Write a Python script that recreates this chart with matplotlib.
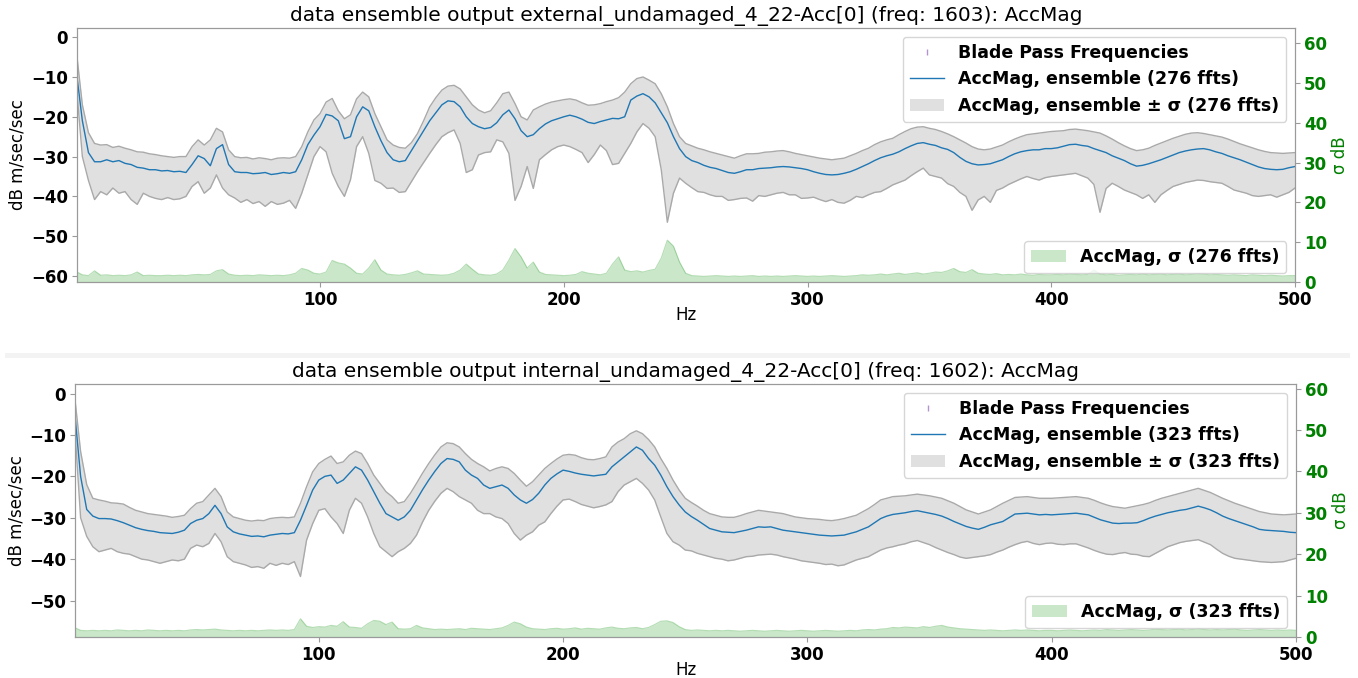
import numpy as np
import matplotlib
matplotlib.use("Agg")
import matplotlib.pyplot as plt
from matplotlib.patches import Rectangle

# Frequency grid (Hz), 2.5 Hz spacing, first bin just above DC
freq_hz = np.arange(201) * 2.5
freq_hz[0] = 0.3

blade_pass_hz = []

# ---- external sensor (276 ffts) ----
ext_mean = [
    -10.0, -21.0, -29.0, -31.3, -31.3, -30.8, -31.3, -31.0, -31.7, -32.0, -32.7, -32.9, -33.3, -33.3, -33.6, -33.5, -33.8, -33.7, -34.0, -32.0,
    -29.8, -30.5, -32.3, -28.0, -27.0, -32.0, -33.8, -34.0, -34.0, -34.3, -34.2, -34.0, -34.5, -34.3, -34.0, -34.2, -33.8, -30.8, -27.0, -24.6,
    -22.5, -19.4, -19.8, -21.0, -25.5, -25.0, -20.0, -17.5, -18.5, -22.5, -26.0, -29.0, -30.8, -31.3, -31.0, -28.5, -26.0, -23.5, -21.0, -19.0,
    -17.0, -16.0, -16.2, -17.5, -20.0, -21.7, -22.5, -23.0, -22.7, -21.5, -19.5, -18.3, -20.5, -23.5, -25.0, -24.5, -23.0, -21.8, -21.0, -20.5,
    -20.0, -19.6, -20.0, -20.6, -21.4, -21.7, -21.2, -20.8, -20.4, -20.5, -20.0, -15.8, -14.8, -14.2, -15.0, -16.5, -19.0, -21.5, -25.0, -28.0,
    -30.0, -31.0, -31.5, -32.2, -32.7, -33.0, -33.5, -34.0, -34.2, -33.8, -33.3, -33.3, -33.0, -32.9, -32.8, -32.6, -32.5, -32.6, -32.8, -33.0,
    -33.3, -33.8, -34.2, -34.5, -34.6, -34.5, -34.2, -33.8, -33.2, -32.5, -31.8, -31.0, -30.3, -29.8, -29.4, -28.8, -28.0, -27.3, -26.7, -26.5,
    -26.9, -27.2, -27.8, -28.2, -29.0, -30.2, -31.2, -31.8, -32.1, -32.0, -31.8, -31.3, -30.8, -30.0, -29.3, -28.8, -28.5, -28.3, -28.3, -28.0,
    -28.0, -27.8, -27.4, -27.0, -26.9, -27.2, -27.4, -28.0, -28.5, -29.0, -29.8, -30.4, -31.0, -31.8, -32.4, -32.2, -31.8, -31.3, -30.8, -30.2,
    -29.6, -29.0, -28.6, -28.3, -28.1, -28.0, -28.3, -28.8, -29.2, -29.8, -30.3, -30.8, -31.4, -32.0, -32.6, -33.0, -33.2, -33.3, -33.2, -32.8,
    -32.5,
]
ext_upper = [
    -5.0, -17.0, -24.0, -26.7, -27.1, -27.0, -27.7, -27.4, -27.9, -28.3, -28.8, -28.9, -29.3, -29.5, -29.8, -30.0, -30.2, -30.0, -30.0, -27.5,
    -25.8, -27.1, -25.8, -22.9, -23.8, -28.3, -30.0, -30.3, -30.2, -30.6, -30.3, -30.5, -30.8, -30.4, -30.3, -30.4, -30.0, -27.5, -23.8, -20.8,
    -19.2, -16.3, -15.4, -18.5, -20.5, -19.5, -15.5, -13.8, -15.0, -19.2, -22.5, -25.8, -27.1, -27.7, -27.9, -26.5, -24.2, -21.0, -17.5, -15.2,
    -13.3, -12.3, -12.1, -13.0, -15.0, -17.0, -18.3, -19.0, -18.5, -16.5, -14.2, -13.8, -16.7, -20.0, -20.8, -18.3, -17.5, -16.8, -16.3, -16.0,
    -15.7, -15.5, -15.8, -16.5, -17.1, -17.0, -16.7, -16.2, -15.8, -15.2, -13.8, -11.7, -10.4, -10.0, -10.8, -11.7, -14.2, -17.5, -21.7, -25.0,
    -26.7, -27.3, -27.9, -28.3, -28.8, -29.2, -29.6, -30.0, -30.4, -29.8, -29.3, -29.3, -29.2, -28.9, -28.8, -28.6, -28.5, -28.8, -29.2, -29.5,
    -29.8, -30.1, -30.4, -30.6, -30.8, -30.6, -30.4, -29.8, -29.2, -28.5, -27.9, -27.0, -26.3, -25.8, -25.4, -24.5, -23.7, -23.0, -22.6, -22.5,
    -22.9, -23.2, -23.7, -24.3, -25.0, -25.8, -26.6, -27.5, -28.1, -28.3, -28.1, -27.6, -27.1, -26.3, -25.6, -25.0, -24.5, -24.3, -24.1, -23.9,
    -23.7, -23.6, -23.5, -23.2, -23.1, -23.3, -23.5, -23.8, -24.1, -24.8, -25.6, -26.5, -27.3, -28.0, -28.5, -28.3, -27.9, -27.2, -26.6, -26.0,
    -25.4, -24.9, -24.4, -24.1, -24.0, -24.2, -24.5, -24.8, -25.1, -25.6, -26.2, -26.8, -27.3, -27.8, -28.3, -28.7, -29.0, -29.1, -29.2, -29.1,
    -29.0,
]
ext_lower = [
    -14.0, -30.0, -36.0, -40.8, -38.8, -39.6, -37.9, -39.2, -38.8, -40.8, -42.0, -39.2, -40.0, -40.5, -40.8, -40.3, -40.8, -40.6, -40.0, -37.5,
    -36.3, -39.2, -37.9, -34.6, -37.9, -39.6, -40.4, -41.5, -40.8, -41.8, -41.3, -42.5, -41.3, -42.0, -41.7, -41.0, -43.0, -39.2, -34.6, -30.0,
    -27.5, -28.8, -34.2, -37.5, -40.0, -35.8, -27.5, -25.0, -29.2, -36.0, -36.7, -38.0, -37.9, -39.0, -38.8, -36.3, -33.8, -31.5, -29.2, -27.0,
    -25.0, -24.0, -23.3, -26.7, -34.0, -33.3, -29.6, -29.0, -28.8, -25.8, -26.3, -29.2, -41.0, -37.5, -32.5, -38.0, -30.8, -29.5, -28.3, -27.5,
    -27.1, -27.5, -28.2, -29.0, -31.5, -29.5, -27.1, -28.5, -32.0, -31.7, -29.2, -26.7, -23.8, -21.7, -22.9, -25.0, -33.3, -46.5, -39.2, -35.4,
    -36.7, -37.8, -38.8, -39.0, -39.6, -40.0, -40.0, -41.0, -40.8, -40.5, -40.4, -41.2, -39.8, -40.0, -39.6, -39.2, -39.0, -39.6, -39.6, -40.5,
    -40.4, -40.2, -40.8, -41.3, -40.8, -41.5, -41.7, -41.0, -40.0, -40.3, -39.6, -39.0, -38.8, -38.0, -37.1, -36.5, -35.9, -34.8, -33.8, -32.9,
    -34.6, -35.0, -35.4, -36.8, -37.5, -39.0, -40.0, -43.5, -40.9, -40.0, -41.5, -38.5, -37.9, -37.0, -36.3, -35.6, -35.0, -35.5, -35.9, -35.3,
    -35.0, -34.8, -34.6, -34.4, -34.2, -34.8, -35.4, -37.0, -44.0, -38.0, -36.7, -37.5, -38.4, -39.0, -39.6, -40.5, -39.6, -41.5, -39.6, -38.5,
    -37.5, -37.0, -36.5, -36.2, -35.9, -36.0, -36.3, -36.5, -36.7, -37.5, -38.4, -38.8, -39.2, -39.8, -40.0, -39.8, -39.6, -40.2, -39.6, -39.0,
    -37.9,
]
ext_sigma = [
    2.5, 1.8, 1.6, 2.8, 1.7, 1.8, 1.6, 1.7, 1.6, 1.8, 2.5, 1.6, 1.7, 1.6, 1.6, 1.7, 1.6, 1.7, 1.6, 1.8,
    1.9, 1.8, 1.9, 2.8, 3.1, 2.0, 1.7, 1.6, 1.7, 1.6, 1.8, 1.7, 1.6, 1.7, 1.6, 1.8, 2.2, 3.4, 3.0, 2.2,
    2.0, 2.5, 5.4, 4.8, 4.5, 3.5, 2.2, 2.0, 3.5, 5.6, 3.0, 2.0, 1.8, 1.7, 1.9, 2.3, 2.8, 2.0, 1.9, 1.8,
    1.7, 1.8, 2.2, 3.0, 4.5, 3.2, 2.0, 1.8, 1.7, 2.0, 3.0, 5.5, 8.4, 6.3, 3.5, 5.0, 2.5, 1.9, 1.8, 1.7,
    1.6, 1.7, 1.9, 2.6, 2.2, 2.0, 1.8, 2.2, 4.5, 6.3, 3.0, 2.6, 2.8, 2.5, 2.9, 3.2, 6.0, 10.5, 9.0, 5.0,
    2.2, 1.6, 1.5, 1.4, 1.5, 1.6, 1.5, 1.4, 1.5, 1.4, 1.5, 1.6, 1.4, 1.5, 1.4, 1.5, 1.4, 1.5, 1.6, 1.5,
    1.4, 1.5, 1.4, 1.5, 1.6, 1.5, 1.4, 1.5, 1.6, 1.8, 1.7, 1.8, 2.0, 1.8, 2.0, 2.2, 1.9, 2.1, 2.3, 2.0,
    2.2, 2.5, 2.4, 2.8, 3.4, 2.6, 2.4, 3.1, 2.2, 2.0, 1.9, 2.1, 1.8, 1.9, 1.8, 2.0, 1.8, 1.7, 1.9, 1.8,
    1.8, 1.9, 1.8, 2.0, 1.9, 1.8, 1.9, 3.0, 2.0, 1.8, 1.9, 1.7, 1.8, 1.9, 1.8, 2.0, 1.8, 1.9, 2.0, 1.8,
    1.9, 2.0, 1.8, 1.9, 2.1, 2.0, 1.8, 1.9, 1.8, 1.7, 1.8, 1.7, 1.6, 1.8, 1.7, 1.6, 1.7, 1.6, 1.5, 1.6,
    1.6,
]

# ---- internal sensor (323 ffts) ----
int_mean = [
    -6.0, -20.0, -28.0, -29.6, -30.2, -30.2, -30.3, -30.7, -31.2, -31.8, -32.4, -32.8, -33.1, -33.3, -33.6, -33.7, -33.8, -33.5, -33.0, -31.4,
    -30.6, -30.2, -29.0, -27.0, -29.0, -32.2, -33.4, -33.9, -34.2, -34.5, -34.4, -34.6, -34.2, -34.0, -33.8, -33.9, -33.6, -30.6, -27.0, -23.3,
    -20.9, -20.0, -19.7, -21.7, -20.9, -19.3, -17.7, -18.5, -20.9, -23.7, -26.5, -29.0, -29.8, -30.6, -29.8, -28.2, -25.7, -23.2, -20.9, -18.8,
    -16.9, -15.7, -15.9, -16.5, -18.5, -19.7, -20.5, -22.1, -22.9, -22.5, -22.1, -22.9, -24.5, -25.7, -26.5, -25.6, -24.1, -22.1, -20.5, -19.4,
    -18.5, -18.8, -19.2, -19.5, -19.7, -19.9, -19.7, -19.5, -17.7, -16.5, -15.3, -14.1, -12.9, -13.7, -15.7, -17.3, -19.7, -22.5, -24.9, -26.9,
    -28.6, -29.7, -30.6, -31.6, -32.6, -33.0, -33.4, -33.5, -33.6, -33.3, -33.0, -32.6, -32.2, -32.3, -32.2, -32.6, -33.0, -33.2, -33.4, -33.6,
    -33.8, -34.0, -34.2, -34.3, -34.4, -34.3, -34.2, -33.8, -33.4, -32.8, -32.2, -31.2, -30.2, -29.6, -29.2, -29.0, -28.8, -28.5, -28.3, -28.6,
    -28.9, -29.2, -29.6, -30.2, -30.9, -31.5, -32.1, -32.5, -32.8, -32.3, -31.7, -31.3, -30.9, -30.0, -29.1, -29.0, -28.9, -29.1, -29.3, -29.2,
    -29.3, -29.2, -29.1, -29.0, -28.9, -29.1, -29.3, -29.9, -30.5, -30.9, -31.3, -31.4, -31.3, -31.3, -31.2, -30.7, -30.1, -29.6, -29.2, -28.8,
    -28.5, -28.2, -28.0, -27.6, -27.2, -27.6, -28.1, -28.8, -29.6, -30.2, -30.7, -31.2, -31.7, -32.2, -32.8, -33.0, -33.1, -33.2, -33.3, -33.5,
    -33.6,
]
int_upper = [
    -2.0, -14.0, -22.0, -25.3, -25.7, -26.0, -26.4, -26.5, -26.7, -27.5, -28.2, -28.6, -29.0, -29.2, -29.4, -29.6, -29.9, -29.7, -29.4, -27.8,
    -26.5, -26.1, -24.5, -22.9, -24.9, -28.6, -29.8, -30.2, -30.6, -30.8, -30.6, -30.7, -30.2, -30.0, -29.9, -30.0, -29.8, -26.5, -22.5, -18.9,
    -16.9, -15.9, -15.1, -16.9, -16.5, -14.9, -13.9, -14.5, -16.9, -19.7, -21.7, -23.7, -24.9, -26.5, -26.1, -24.1, -21.7, -19.2, -16.9, -14.8,
    -12.9, -11.9, -12.1, -12.9, -14.5, -15.9, -16.9, -17.7, -18.7, -18.1, -17.7, -18.1, -19.3, -20.9, -22.4, -21.3, -19.7, -18.1, -16.9, -15.8,
    -14.9, -14.7, -14.9, -15.5, -15.9, -16.0, -15.7, -15.3, -12.9, -11.7, -10.9, -9.7, -9.0, -9.7, -11.1, -12.9, -15.7, -18.1, -20.9, -23.3,
    -25.3, -26.3, -27.2, -28.2, -29.0, -29.4, -29.8, -29.9, -29.9, -29.5, -29.0, -28.6, -28.2, -28.4, -28.6, -28.8, -29.0, -29.4, -29.8, -30.0,
    -30.2, -30.3, -30.4, -30.6, -30.7, -30.5, -30.2, -29.8, -29.4, -28.6, -27.8, -26.8, -25.7, -25.3, -24.9, -24.8, -24.7, -24.5, -24.3, -24.5,
    -24.7, -25.0, -25.3, -25.9, -26.5, -27.3, -28.1, -28.6, -29.1, -28.6, -28.1, -27.3, -26.5, -25.8, -25.1, -25.0, -24.9, -25.1, -25.3, -25.3,
    -25.3, -25.2, -25.1, -25.0, -24.9, -25.1, -25.3, -25.8, -26.4, -26.9, -27.3, -27.5, -27.7, -27.4, -27.1, -26.8, -26.4, -25.8, -25.3, -24.9,
    -24.5, -24.1, -23.7, -23.3, -22.9, -23.4, -23.9, -24.6, -25.3, -25.9, -26.5, -27.0, -27.5, -28.0, -28.5, -28.8, -29.1, -29.2, -29.3, -29.2,
    -29.1,
]
int_lower = [
    -10.0, -30.0, -34.5, -37.0, -38.2, -37.8, -37.4, -38.2, -38.6, -38.8, -39.4, -40.0, -40.2, -40.6, -41.0, -40.6, -40.2, -40.4, -40.0, -37.4,
    -36.6, -37.0, -36.2, -33.8, -35.8, -39.4, -40.6, -41.0, -41.4, -42.0, -41.8, -42.2, -41.0, -41.5, -41.0, -41.3, -40.6, -44.2, -35.4, -31.4,
    -28.2, -27.8, -29.8, -31.4, -33.8, -28.2, -25.3, -26.5, -29.8, -33.8, -37.0, -38.2, -39.4, -38.2, -37.4, -36.2, -34.2, -31.0, -28.2, -26.0,
    -24.1, -22.9, -23.7, -24.9, -25.7, -26.5, -28.2, -29.0, -29.0, -29.8, -30.2, -31.4, -33.8, -35.4, -34.2, -33.4, -31.8, -31.0, -29.0, -27.2,
    -25.7, -25.5, -26.1, -26.8, -27.2, -27.6, -27.3, -26.9, -26.1, -23.7, -22.1, -21.3, -20.5, -21.7, -23.3, -25.7, -29.8, -33.8, -35.8, -36.6,
    -37.8, -38.0, -38.6, -39.0, -39.4, -39.8, -40.0, -40.4, -40.2, -39.8, -39.4, -39.3, -39.0, -38.9, -38.8, -39.0, -39.4, -39.7, -40.0, -40.4,
    -40.6, -40.8, -41.0, -41.3, -41.2, -41.6, -41.4, -40.8, -40.2, -39.8, -39.4, -38.6, -37.8, -37.3, -37.0, -36.6, -36.3, -35.8, -35.5, -36.0,
    -36.5, -37.2, -37.8, -38.4, -38.9, -39.5, -39.8, -39.6, -39.4, -39.2, -38.9, -38.3, -37.8, -37.1, -36.5, -36.0, -35.7, -36.2, -36.5, -36.2,
    -36.1, -36.4, -36.5, -36.3, -36.3, -36.8, -37.3, -37.9, -38.4, -38.8, -38.9, -38.6, -38.4, -38.8, -38.9, -39.3, -39.4, -38.6, -37.8, -37.0,
    -36.5, -36.0, -35.7, -35.5, -35.3, -35.9, -36.5, -37.6, -38.6, -39.3, -39.8, -40.0, -40.2, -40.4, -40.6, -40.7, -40.8, -40.7, -40.6, -40.2,
    -39.8,
]
int_sigma = [
    2.2, 1.6, 1.5, 1.6, 1.5, 1.6, 1.5, 1.7, 1.6, 1.5, 1.6, 1.5, 1.7, 1.6, 1.5, 1.6, 1.5, 1.6, 1.5, 1.7,
    1.8, 1.7, 1.8, 1.9, 1.7, 1.6, 1.5, 1.6, 1.5, 1.6, 1.5, 1.6, 1.7, 1.6, 1.7, 1.6, 1.8, 4.4, 2.6, 2.3,
    2.5, 2.4, 2.8, 2.6, 3.7, 2.4, 2.3, 2.1, 3.2, 4.0, 3.8, 3.0, 3.6, 2.0, 1.9, 2.0, 2.8, 2.2, 2.0, 1.8,
    1.9, 1.8, 1.9, 2.0, 1.8, 2.1, 2.0, 1.9, 1.8, 2.0, 2.2, 2.8, 3.6, 3.2, 2.4, 2.0, 1.9, 1.8, 2.0, 2.1,
    1.9, 2.0, 2.2, 1.9, 2.1, 2.0, 1.9, 2.2, 2.4, 2.1, 2.0, 2.2, 2.3, 2.0, 2.3, 3.0, 3.8, 3.9, 3.5, 2.5,
    1.8, 1.6, 1.7, 1.6, 1.5, 1.6, 1.5, 1.6, 1.5, 1.4, 1.5, 1.6, 1.5, 1.4, 1.5, 1.6, 1.5, 1.4, 1.5, 1.6,
    1.5, 1.4, 1.5, 1.6, 1.5, 1.4, 1.5, 1.6, 1.5, 1.7, 1.8, 1.7, 1.9, 2.0, 2.3, 2.2, 2.4, 2.3, 2.2, 2.5,
    2.3, 2.6, 2.8, 2.4, 2.2, 2.0, 1.9, 1.8, 1.7, 1.6, 1.7, 1.6, 1.5, 1.6, 1.7, 1.6, 1.7, 1.6, 1.5, 1.6,
    1.6, 1.5, 1.6, 1.7, 1.6, 1.5, 1.6, 1.7, 1.6, 1.8, 1.7, 1.6, 1.7, 1.8, 1.7, 1.6, 1.7, 1.9, 1.8, 1.7,
    1.8, 1.9, 1.7, 1.8, 2.0, 1.8, 1.7, 1.8, 1.7, 1.8, 1.9, 1.7, 1.6, 1.7, 1.8, 1.7, 1.6, 1.7, 1.6, 1.7,
    1.6,
]

panels = [
    dict(title="data ensemble output external_undamaged_4_22-Acc[0] (freq: 1603): AccMag",
         n_ffts=276, mean=ext_mean, upper=ext_upper, lower=ext_lower, sigma=ext_sigma,
         ylim=(-61.5, 2.3), rect=[0.0567, 0.5841, 0.8969, 0.3746]),
    dict(title="data ensemble output internal_undamaged_4_22-Acc[0] (freq: 1602): AccMag",
         n_ffts=323, mean=int_mean, upper=int_upper, lower=int_lower, sigma=int_sigma,
         ylim=(-58.8, 2.3), rect=[0.0554, 0.0605, 0.8989, 0.3731]),
]

SPINE = "#9a9a9a"
TICK_FS = 12
LEG_FS = 12.5
LABEL_FS = 12

fig = plt.figure(figsize=(13.58, 6.78), dpi=100)

# thin light strip between the two panels
fig.add_artist(Rectangle((0.004, 0.472), 0.99, 0.007, transform=fig.transFigure,
                         facecolor="#f3f3f3", edgecolor="none"))

for p in panels:
    ax = fig.add_axes(p["rect"])
    n = p["n_ffts"]
    bp, = ax.plot(blade_pass_hz, [0.0] * len(blade_pass_hz), linestyle="none",
                  marker="|", markersize=4, color="tab:purple", alpha=0.7,
                  label="Blade Pass Frequencies")
    band = ax.fill_between(freq_hz, p["lower"], p["upper"], color="lightgray",
                           alpha=0.7, linewidth=0,
                           label=f"AccMag, ensemble \u00b1 \u03c3 ({n} ffts)")
    ax.plot(freq_hz, p["upper"], color="darkgray", linewidth=1.0)
    ax.plot(freq_hz, p["lower"], color="darkgray", linewidth=1.0)
    mline, = ax.plot(freq_hz, p["mean"], color="tab:blue", linewidth=1.0,
                     label=f"AccMag, ensemble ({n} ffts)")
    ax.set_xlim(freq_hz[0], freq_hz[-1])
    ax.set_ylim(*p["ylim"])
    ax.set_xticks([100, 200, 300, 400, 500])
    ax.set_yticks(np.arange(-60, 1, 10) if p["ylim"][0] < -60 else np.arange(-50, 1, 10))
    ax.set_title(p["title"], fontsize=14.5, pad=5)
    ax.set_xlabel("Hz", fontsize=LABEL_FS, labelpad=-2)
    ax.set_ylabel("dB m/sec/sec", fontsize=LABEL_FS, labelpad=3)
    ax.tick_params(axis="both", labelsize=TICK_FS, color=SPINE, pad=3)
    for lab in ax.get_xticklabels() + ax.get_yticklabels():
        lab.set_fontweight("bold")
    ax.legend(handles=[bp, mline, band], loc="upper right",
              prop={"weight": "bold", "size": LEG_FS})

    ax2 = ax.twinx()
    sfill = ax2.fill_between(freq_hz, 0, p["sigma"], color="tab:green", alpha=0.25,
                             linewidth=0, label=f"AccMag, \u03c3 ({n} ffts)")
    ax2.plot(freq_hz, p["sigma"], color="tab:green", alpha=0.35, linewidth=0.8)
    ax2.set_ylim(0, p["ylim"][1] - p["ylim"][0])
    ax2.set_yticks(np.arange(0, 61, 10))
    ax2.set_ylabel("\u03c3 dB", color="green", fontsize=LABEL_FS, labelpad=3)
    ax2.tick_params(axis="y", labelsize=TICK_FS, labelcolor="green", color=SPINE, pad=3)
    for lab in ax2.get_yticklabels():
        lab.set_fontweight("bold")
    ax2.legend(handles=[sfill], loc="lower right",
               prop={"weight": "bold", "size": LEG_FS})

    for a in (ax, ax2):
        for s in a.spines.values():
            s.set_color(SPINE)

fig.savefig("out.png", dpi=100)
